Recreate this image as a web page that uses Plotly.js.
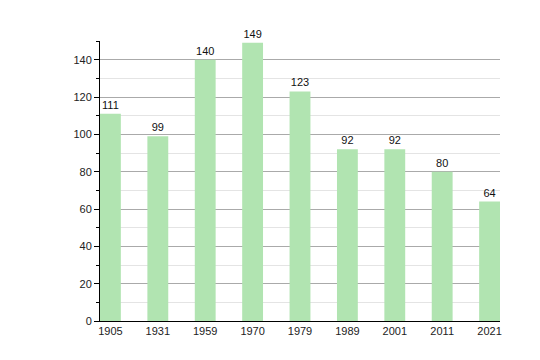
<!DOCTYPE html>
<html>
<head>
<script src="https://cdn.plot.ly/plotly-3.0.1.min.js"></script>
<style>html,body{margin:0;padding:0;background:#fff;}#chart{width:540px;height:360px;}</style>
</head>
<body>
<div id="chart"></div>
<script>
const years = ["1905","1931","1959","1970","1979","1989","2001","2011","2021"];
const population = [111, 99, 140, 149, 123, 92, 92, 80, 64];

const trace = {
  type: "bar",
  x: years,
  y: population,
  text: population.map(String),
  textposition: "outside",
  cliponaxis: false,
  textfont: {family: "Liberation Sans, Arial, sans-serif", size: 11, color: "#111"},
  marker: {color: "#b1e4b1", line: {width: 0}},
  width: 0.44,
  hoverinfo: "none"
};

const layout = {
  width: 540, height: 360,
  margin: {l: 100, r: 40, t: 41, b: 39},
  paper_bgcolor: "#fff", plot_bgcolor: "#fff",
  showlegend: false,
  bargap: 0.56,
  font: {family: "Liberation Sans, Arial, sans-serif", size: 11, color: "#222"},
  xaxis: {
    type: "category",
    range: [-0.22, 8.22],
    showline: true, linecolor: "#000", linewidth: 1,
    ticks: "", showgrid: false, zeroline: false,
    tickfont: {size: 11, color: "#222"}
  },
  yaxis: {
    range: [0, 150],
    dtick: 20, tick0: 0,
    showline: true, linecolor: "#000", linewidth: 1,
    ticks: "outside", ticklen: 5, tickcolor: "#000",
    showgrid: true, gridcolor: "#aaa", gridwidth: 1,
    zeroline: false,
    minor: {dtick: 10, tick0: 0, showgrid: true, gridcolor: "#e4e4e4", ticks: "outside", ticklen: 3, tickcolor: "#000"},
    tickfont: {size: 11, color: "#222"}
  }
};

Plotly.newPlot("chart", [trace], layout, {displayModeBar: false, staticPlot: true});
</script>
</body>
</html>
